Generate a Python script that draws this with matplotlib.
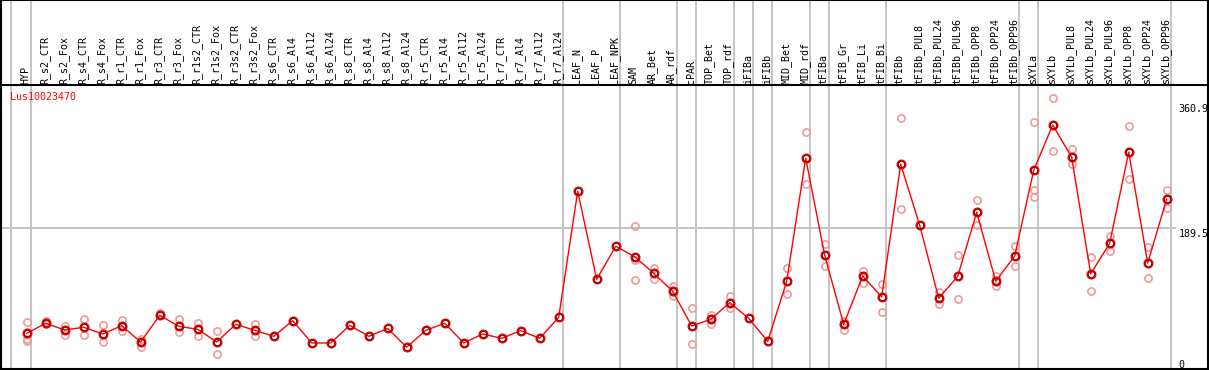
import matplotlib
matplotlib.use("Agg")
from matplotlib import pyplot as plt
import numpy as np

# sample names, in plotted order
samples = ["HYP", "R_s2_CTR", "R_s2_Fox", "R_s4_CTR", "R_s4_Fox", "R_r1_CTR", "R_r1_Fox",
           "R_r3_CTR", "R_r3_Fox", "R_r1s2_CTR", "R_r1s2_Fox", "R_r3s2_CTR", "R_r3s2_Fox",
           "R_s6_CTR", "R_s6_Al4", "R_s6_Al12", "R_s6_Al24", "R_s8_CTR", "R_s8_Al4",
           "R_s8_Al12", "R_s8_Al24", "R_r5_CTR", "R_r5_Al4", "R_r5_Al12", "R_r5_Al24",
           "R_r7_CTR", "R_r7_Al4", "R_r7_Al12", "R_r7_Al24", "LEAF_N", "LEAF_P", "LEAF_NPK",
           "SAM", "AR_Bet", "AR_rdf", "cPAR", "TOP_Bet", "TOP_rdf", "iFIBa", "iFIBb",
           "MID_Bet", "MID_rdf", "tFIBa", "tFIB_Gr", "tFIB_Li", "tFIB_Bi", "tFIBb",
           "tFIBb_PUL8", "tFIBb_PUL24", "tFIBb_PUL96", "tFIBb_OPP8", "tFIBb_OPP24",
           "tFIBb_OPP96", "sXYLa", "sXYLb", "sXYLb_PUL8", "sXYLb_PUL24", "sXYLb_PUL96",
           "sXYLb_OPP8", "sXYLb_OPP24", "sXYLb_OPP96"]

# mean expression per sample
means = [49.3, 62.6, 53.7, 57.3, 48.4, 59.4, 37.8, 73.2, 58.6, 54.6, 37.8, 61.3, 53.3,
         45.3, 66.0, 36.5, 36.5, 59.9, 45.3, 55.7, 30.8, 53.3, 62.6, 36.5, 48.4, 42.7,
         52.8, 42.7, 70.5, 237.6, 120.9, 164.7, 150.9, 128.9, 105.0, 59.0, 67.9, 89.9,
         69.2, 38.7, 118.3, 281.4, 152.7, 61.3, 125.3, 97.5, 273.5, 192.5, 95.7, 124.9,
         209.8, 118.3, 151.8, 265.4, 325.5, 282.7, 128.0, 168.7, 289.7, 142.5, 227.4]

# replicate values (sample index, value)
rep_idx = [0, 0, 0, 1, 1, 2, 2, 3, 3, 4, 4, 5, 5, 6, 6, 7, 8, 8, 9, 9, 10, 10, 12, 12,
           32, 32, 32, 33, 33, 34, 34, 35, 35, 36, 36, 37, 37, 40, 40, 41, 41, 42, 42,
           43, 43, 44, 44, 45, 45, 46, 46, 48, 48, 49, 49, 50, 50, 51, 51, 52, 52,
           53, 53, 53, 54, 54, 55, 55, 56, 56, 57, 57, 58, 58, 59, 59, 60, 60]
rep_val = [64.7, 41.4, 39.1, 66.0, 61.3, 59.4, 47.1, 68.3, 47.1, 60.3, 37.4, 67.0, 52.4,
           41.8, 31.6, 75.8, 68.3, 50.6, 63.4, 45.7, 52.0, 21.5, 62.1, 46.1,
           191.6, 146.5, 119.6, 136.3, 121.7, 112.4, 98.4, 82.5, 35.1, 73.2, 62.1,
           98.4, 82.9, 135.5, 101.0, 315.8, 246.9, 167.3, 138.2, 65.6, 53.3, 131.9, 116.4,
           114.7, 77.6, 334.4, 213.7, 103.7, 88.6, 152.7, 95.2, 225.7, 193.3, 125.3, 112.0,
           164.7, 139.0, 329.1, 239.3, 229.6, 360.9, 290.6, 293.3, 273.4, 150.1, 105.0,
           178.3, 158.8, 323.8, 253.5, 164.1, 122.2, 239.3, 215.1]

# last sample index of each group (separator lines)
group_ends = [0, 28, 31, 34, 35, 37, 38, 39, 41, 42, 45, 52, 53, 60]

gene = "Lus10023470"
ref_lines = [360.9, 189.5, 0]

# pixel layout of the original picture
W, H = 1209, 370
X0, STEP = 26.7, 19.0          # x pixel of first sample, spacing
Y0, YS = 370.5, 0.7542         # y pixel of value 0, pixels per unit


def px_to_val(py):
    return (Y0 - py) / YS


def px_to_idx(px):
    return (px - X0) / STEP


plt.rcParams['font.family'] = ['DejaVu Sans Mono']
fig = plt.figure(figsize=(W / 100, H / 100), dpi=100)
ax = fig.add_axes([1 / W, 1 / H, 1206.5 / W, 369 / H])
ax.set_xlim(px_to_idx(1), px_to_idx(1207.5))
ax.set_ylim(px_to_val(369), px_to_val(0))
ax.set_xticks([])
ax.set_yticks([])
for s in ax.spines.values():
    s.set_linewidth(1.5)
    s.set_color("black")

grey = "#c4c4c4"
# group separators
for g in [-1.04] + group_ends:
    ax.axvline(g + 0.2, color=grey, lw=1.4, zorder=1)
# reference line at middle value
ax.hlines(ref_lines[1], px_to_idx(1), px_to_idx(1176), color=grey, lw=1.4, zorder=1)
# header separator
ax.axhline(px_to_val(85), color="black", lw=1.5, zorder=2)

x = np.arange(len(samples))
ax.plot(rep_idx, rep_val, ls="none", marker="o", ms=5.2, mfc="none",
        mec="#f09a9a", mew=1.2, zorder=3)
ax.plot(x, means, color="red", lw=1.0, zorder=4)
ax.plot(x, means, ls="none", marker="o", ms=5.6, mfc="none", mec="#e00000",
        mew=1.6, zorder=5)
ax.plot(x, means, ls="none", marker="o", ms=4.6, mfc="none", mec="#400000",
        mew=0.5, alpha=0.7, zorder=6)

fs = 7.2
for i, name in enumerate(samples):
    ax.text(i - 0.05, px_to_val(84), name, rotation=90, ha="center", va="bottom",
            fontsize=fs, color="black")

ax.text(px_to_idx(10), px_to_val(97), gene, color="red", fontsize=fs,
        ha="left", va="center")

# right hand value labels, shifted in pixels from their value
offsets = [-6, -1, 11]
for v, off in zip(ref_lines, offsets):
    ax.annotate("%g" % v, (px_to_idx(1178.5), v), xytext=(0, off * 0.72),
                textcoords="offset points", ha="left", va="top", fontsize=fs,
                annotation_clip=False)

fig.savefig("out.png", dpi=100)
